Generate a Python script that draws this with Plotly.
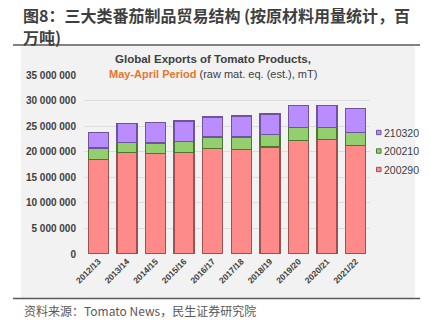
import plotly.graph_objects as go

seasons = ["2012/13", "2013/14", "2014/15", "2015/16", "2016/17",
           "2017/18", "2018/19", "2019/20", "2020/21", "2021/22"]
s200290 = [18.5e6, 19.8e6, 19.6e6, 19.8e6, 20.6e6, 20.4e6, 20.9e6, 22.2e6, 22.4e6, 21.2e6]
s200210 = [2.2e6, 2.0e6, 2.1e6, 2.2e6, 2.3e6, 2.5e6, 2.4e6, 2.6e6, 2.4e6, 2.6e6]
s210320 = [3.0e6, 3.7e6, 4.0e6, 4.0e6, 3.9e6, 4.1e6, 4.1e6, 4.3e6, 4.3e6, 4.6e6]
series_names = ["200290", "200210", "210320"]
ytickvals = [0, 5e6, 10e6, 15e6, 20e6, 25e6, 30e6, 35e6]
yticktext = ["0", "5 000 000", "10 000 000", "15 000 000", "20 000 000",
             "25 000 000", "30 000 000", "35 000 000"]

W, H = 429, 325
L, R, T, B = 84, 370, 75, 254

def px(x):
    return (x - L) / (R - L)

def py(y):
    return (B - y) / (B - T)

fills = ["#FF8A8A", "#93CF6E", "#B98CFF"]
edges = ["#9A5252", "#4C7634", "#71539C"]
values = [s200290, s200210, s210320]

fig = go.Figure()
for name, vals, fc, ec in zip(series_names, values, fills, edges):
    fig.add_bar(x=seasons, y=vals, name=name, showlegend=False,
                marker=dict(color=fc, line=dict(color=ec, width=1.3)))

FONT = "Liberation Sans, Arial, sans-serif"
CJK = "Noto Sans CJK SC, sans-serif"

shapes = [
    dict(type="rect", xref="paper", yref="paper", x0=px(21), x1=px(415),
         y0=py(298), y1=py(46), fillcolor="#F2F2F2", line=dict(width=0), layer="below"),
    dict(type="line", xref="paper", yref="paper", x0=px(13), x1=px(420),
         y0=py(45), y1=py(45), line=dict(color="#595959", width=1.6)),
    dict(type="line", xref="paper", yref="paper", x0=px(13), x1=px(420),
         y0=py(298.5), y1=py(298.5), line=dict(color="#595959", width=1.6)),
]

annotations = [
    dict(xref="paper", yref="paper", x=px(21), y=py(14.5), xanchor="left", yanchor="middle",
         showarrow=False, text="<b>图8：三大类番茄制品贸易结构 (按原材料用量统计，百</b>",
         font=dict(family=CJK, size=16, color="#3F3F3F")),
    dict(xref="paper", yref="paper", x=px(21), y=py(37.5), xanchor="left", yanchor="middle",
         showarrow=False, text="<b>万吨)</b>",
         font=dict(family=CJK, size=16, color="#3F3F3F")),
    dict(xref="paper", yref="paper", x=px(213), y=py(59), xanchor="center", yanchor="middle",
         showarrow=False, text="<b>Global Exports of Tomato Products,</b>",
         font=dict(family=FONT, size=11.5, color="#404040")),
    dict(xref="paper", yref="paper", x=px(213), y=py(74), xanchor="center", yanchor="middle",
         showarrow=False,
         text="<b><span style='color:#E8762B'>May-April Period</span></b> (raw mat. eq. (est.), mT)",
         font=dict(family=FONT, size=11, color="#404040")),
    dict(xref="paper", yref="paper", x=px(22), y=py(310), xanchor="left", yanchor="middle",
         showarrow=False, text="资料来源：Tomato News，民生证券研究院",
         font=dict(family=CJK, size=12, color="#595959")),
]

# custom legend (small square keys, as in the reference)
leg_y = [169.5, 151, 132.5]
for name, fc, ec, yy in zip(series_names, fills, edges, leg_y):
    shapes.append(dict(type="rect", xref="paper", yref="paper",
                       x0=px(376.5), x1=px(381), y0=py(yy + 2.2), y1=py(yy - 2.2),
                       fillcolor=fc, line=dict(color=ec, width=1)))
    annotations.append(dict(xref="paper", yref="paper", x=px(382), y=py(yy),
                            xanchor="left", yanchor="middle", showarrow=False, text=name,
                            font=dict(family=FONT, size=10.5, color="#404040")))

fig.update_layout(
    width=W, height=H,
    margin=dict(l=L, r=W - R, t=T, b=H - B, pad=0),
    barmode="stack", bargap=0.3,
    paper_bgcolor="white", plot_bgcolor="rgba(0,0,0,0)",
    font=dict(family=FONT, color="#404040"),
    shapes=shapes, annotations=annotations,
)
fig.update_yaxes(range=[0, 35e6], tickvals=ytickvals, ticktext=yticktext,
                 showgrid=True, gridcolor="#DCDCDC", gridwidth=1, zeroline=False,
                 showline=False, ticks="", ticklabelstandoff=7,
                 tickfont=dict(family=FONT, size=10, color="#404040", weight="bold"))
fig.update_xaxes(showgrid=False, showline=False, ticks="", tickangle=-45,
                 tickfont=dict(family=FONT, size=8.5, color="#404040", weight="bold"))

fig.write_html("out.html")
